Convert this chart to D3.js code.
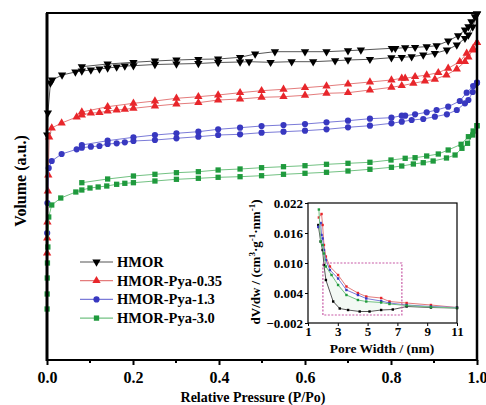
<!DOCTYPE html>
<html>
<head>
<meta charset="utf-8">
<script src="https://cdn.jsdelivr.net/npm/d3@7"></script>
<style>
  body { margin: 0; background: #fff; }
  svg { display: block; font-family: "Liberation Serif", "Times New Roman", serif; font-weight: bold; }
</style>
</head>
<body>
<svg width="486" height="405"></svg>
<script>
// isotherm branches: [P/Po, volume (a.u.)]
const hmorAds = [[0.0005,225],[0.002,247],[0.008,277],[0.012,280],[0.035,285],[0.066,288],[0.081,289],[0.102,290],[0.122,291],[0.141,292],[0.162,293],[0.181,294],[0.201,294.3],[0.251,295.5],[0.301,296],[0.352,296.5],[0.398,297.5],[0.449,298],[0.470,298.3],[0.520,297.7],[0.569,298.3],[0.619,298.3],[0.670,299.3],[0.700,300],[0.751,300.7],[0.801,302.3],[0.825,302.7],[0.848,303.3],[0.875,305],[0.902,306.7],[0.930,310],[0.953,315],[0.972,321.7],[0.980,325],[0.990,333],[1.0,346]];
const hmorDes = [[1.0,346],[0.995,343.3],[0.987,338.3],[0.980,333.3],[0.972,330],[0.956,324.3],[0.933,319],[0.906,314.3],[0.883,313.3],[0.856,312.7],[0.833,312.3],[0.810,311.7],[0.802,311.7],[0.730,310],[0.700,309.3],[0.650,308.3],[0.600,308.3],[0.530,308.3],[0.484,306],[0.449,302.7],[0.398,301],[0.352,300.7],[0.301,300],[0.251,299],[0.201,297.7],[0.141,296],[0.081,293.3]];

const pya035Ads = [[0.0003,107],[0.0006,122],[0.001,138],[0.002,169],[0.003,185],[0.005,223],[0.011,232],[0.034,237],[0.069,243],[0.081,245],[0.102,247],[0.122,247.3],[0.141,249],[0.162,250],[0.181,250.7],[0.201,251.7],[0.251,254],[0.301,256],[0.352,257.3],[0.398,260],[0.449,261],[0.499,262.7],[0.55,263.3],[0.60,264.7],[0.65,266.7],[0.70,267.3],[0.751,270],[0.801,272.7],[0.825,274.3],[0.852,276.7],[0.879,279],[0.902,280.7],[0.929,285],[0.953,291],[0.972,298.3],[0.98,303],[0.99,310],[1.0,317.3]];
const pya035Des = [[1.0,317.3],[0.991,311.7],[0.976,306.7],[0.96,298.3],[0.933,291.7],[0.91,287.3],[0.883,285],[0.856,283.3],[0.833,281.7],[0.825,281.7],[0.801,280],[0.751,278],[0.70,276],[0.65,274],[0.60,272.3],[0.55,270.7],[0.499,269.3],[0.449,267.3],[0.398,265],[0.352,263.3],[0.301,261.7],[0.251,259],[0.201,256.7],[0.141,253.3],[0.081,248]];

const pya13Ads = [[0.0004,127],[0.001,157],[0.004,192],[0.011,199],[0.034,206],[0.069,210.7],[0.081,212.3],[0.102,213.3],[0.122,214],[0.141,216],[0.162,216.7],[0.181,217.7],[0.201,219],[0.251,220],[0.301,221.7],[0.352,223.3],[0.398,225],[0.449,225.7],[0.499,227.3],[0.55,228.3],[0.60,229.3],[0.65,230.7],[0.70,232.7],[0.751,234.3],[0.801,236.7],[0.825,238.3],[0.848,240],[0.875,241],[0.902,243.3],[0.93,245.7],[0.953,250],[0.972,256.7],[0.98,260],[0.99,268],[1.0,277.3]];
const pya13Des = [[1.0,277.3],[0.991,274],[0.976,267.3],[0.96,259],[0.933,253.3],[0.906,250],[0.883,247.7],[0.856,245.7],[0.833,244.3],[0.825,244.3],[0.801,242.3],[0.751,241.3],[0.70,239.3],[0.65,237.7],[0.60,236],[0.55,235],[0.499,234],[0.449,232.3],[0.398,230.7],[0.352,228.3],[0.301,226.7],[0.251,225],[0.201,222.7],[0.141,219.3],[0.081,215]];

const pya30Ads = [[0.0002,51],[0.0004,66],[0.0006,82],[0.001,97],[0.002,113],[0.004,143],[0.011,155],[0.032,162],[0.067,168],[0.081,170],[0.100,172],[0.119,173],[0.139,174],[0.162,175.7],[0.181,176.7],[0.201,177.3],[0.251,179],[0.301,180.7],[0.352,181.7],[0.398,182.7],[0.449,183.3],[0.499,184.3],[0.55,185.7],[0.60,186.7],[0.65,187.7],[0.70,189],[0.751,190.7],[0.801,192.7],[0.825,194],[0.852,196],[0.875,197.3],[0.898,199],[0.929,202],[0.949,205],[0.965,211.7],[0.978,216.7],[0.99,225],[1.0,234.3]];
const pya30Des = [[1.0,234.3],[0.991,229],[0.98,223.3],[0.963,215.7],[0.933,210],[0.91,206],[0.883,204],[0.856,202.3],[0.833,201.7],[0.80,200],[0.751,197.7],[0.70,196.7],[0.65,195.7],[0.60,194.3],[0.55,193.3],[0.499,192.3],[0.449,191],[0.398,190],[0.352,188.3],[0.301,187.3],[0.251,185.7],[0.201,184],[0.141,181],[0.081,177.3]];

// pore size distribution (inset): [pore width nm, dV/dw]
const hmorPsd = [[1.69,0.0176],[1.85,0.0143],[1.98,0.0126],[2.07,0.0096],[2.2,0.0066],[2.69,0.0023],[3.13,0.0009],[3.69,0.0006],[4.47,0.0003],[5.13,0.0003],[5.91,0.0006],[6.69,0.0007],[7.62,0.0013],[9.25,0.0011],[11,0.0010]];
const pya035Psd = [[1.73,0.0191],[1.91,0.0198],[1.98,0.0176],[2.07,0.0136],[2.2,0.0113],[2.47,0.0093],[3.02,0.0076],[3.58,0.0053],[4.35,0.0040],[4.91,0.0033],[5.91,0.0030],[6.47,0.0023],[7.62,0.0020],[9.25,0.0016],[11,0.0011]];
const pya13Psd = [[1.69,0.0172],[1.85,0.0180],[1.91,0.0156],[1.98,0.0149],[2.07,0.0126],[2.2,0.0106],[2.47,0.0086],[3.02,0.0069],[3.58,0.0046],[4.35,0.0036],[4.91,0.0029],[5.91,0.0024],[6.47,0.0020],[7.62,0.0016],[9.25,0.0013],[11,0.0011]];
const pya30Psd = [[1.73,0.0207],[1.85,0.0143],[1.98,0.0136],[2.07,0.0119],[2.2,0.0093],[2.58,0.0076],[3.02,0.0056],[3.58,0.0036],[4.35,0.0026],[4.91,0.0023],[5.91,0.0021],[6.47,0.0018],[7.62,0.0015],[9.25,0.0012],[11,0.0010]];

const seriesNames = ["HMOR", "HMOR-Pya-0.35", "HMOR-Pya-1.3", "HMOR-Pya-3.0"];
const markerColors = ["#000000", "#e8262b", "#3838c0", "#1f9a3d"];
const lineColors = ["#555555", "#e47c7c", "#7b7bd8", "#73c283"];
const xTicks = [0.0, 0.2, 0.4, 0.6, 0.8, 1.0];
const insetXTicks = [1, 3, 5, 7, 9, 11];
const insetYTicks = [-0.002, 0.004, 0.010, 0.016, 0.022];
const zoomBox = [[2.0, 0.010], [7.3, -0.0004]];

const svg = d3.select("svg");

const isotherms = [
  [hmorAds, hmorDes],
  [pya035Ads, pya035Des],
  [pya13Ads, pya13Des],
  [pya30Ads, pya30Des]
];
const psd = [hmorPsd, pya035Psd, pya13Psd, pya30Psd];

const symbols = [
  { type: d3.symbolTriangle, rotate: 180, size: 30 },
  { type: d3.symbolTriangle, rotate: 0, size: 30 },
  { type: d3.symbolCircle, rotate: 0, size: 30 },
  { type: d3.symbolSquare, rotate: 0, size: 28 }
];

const scaleX = d3.scaleLinear().domain([0, 1]).range([47, 477]);
const scaleY = d3.scaleLinear().domain([0, 347]).range([360, 13]);

const line = d3
  .line()
  .x(d => scaleX(d[0]))
  .y(d => scaleY(d[1]));

// main curves
isotherms.forEach((branches, i) => {
  const g = svg.append("g").attr("class", "series");
  branches.forEach(b => {
    g.append("path")
      .attr("d", line(b))
      .attr("fill", "none")
      .attr("stroke", lineColors[i])
      .attr("stroke-width", 1);
  });
  const sym = d3.symbol().type(symbols[i].type).size(symbols[i].size);
  branches.forEach(b => {
    g.selectAll(null)
      .data(b)
      .enter()
      .append("path")
      .attr("d", sym)
      .attr("fill", markerColors[i])
      .attr("transform", d => `translate(${scaleX(d[0])},${scaleY(d[1])}) rotate(${symbols[i].rotate})`);
  });
});

// frame and axes
svg.append("rect")
  .attr("x", 47).attr("y", 13)
  .attr("width", 430).attr("height", 347)
  .attr("fill", "none")
  .attr("stroke", "#000")
  .attr("stroke-width", 2);
svg.append("line")
  .attr("x1", 47).attr("x2", 47).attr("y1", 13).attr("y2", 361)
  .attr("stroke", "#000").attr("stroke-width", 3);
svg.append("line")
  .attr("x1", 477).attr("x2", 477).attr("y1", 12).attr("y2", 361)
  .attr("stroke", "#000").attr("stroke-width", 2.5);

const axisX = d3.axisBottom(scaleX)
  .tickValues(xTicks)
  .tickFormat(d3.format(".1f"))
  .tickSizeInner(5)
  .tickSizeOuter(0)
  .tickPadding(7);
const axisXGroup = svg.append("g")
  .attr("transform", "translate(0,360)")
  .call(axisX);
axisXGroup.select(".domain").remove();
axisXGroup.selectAll("line").attr("stroke-width", 2);
axisXGroup.selectAll("text")
  .attr("font-size", 16)
  .attr("font-family", "Liberation Serif")
  .attr("font-weight", "bold")
  .attr("fill", "#000");

svg.append("g")
  .attr("transform", "translate(0,360)")
  .selectAll("line")
  .data(d3.range(0.1, 1, 0.2))
  .enter()
  .append("line")
  .attr("x1", d => scaleX(d)).attr("x2", d => scaleX(d))
  .attr("y1", 0).attr("y2", 3)
  .attr("stroke", "#000").attr("stroke-width", 2);

svg.append("text")
  .attr("x", 253).attr("y", 402)
  .attr("text-anchor", "middle")
  .attr("font-size", 14)
  .text("Relative Pressure (P/Po)");

svg.append("text")
  .attr("transform", "translate(26,181) rotate(-90)")
  .attr("text-anchor", "middle")
  .attr("font-size", 16)
  .text("Volume (a.u.)");

// legend
const legend = svg.selectAll("g.legend")
  .data(seriesNames)
  .enter()
  .append("g")
  .attr("class", "legend")
  .attr("transform", (d, i) => `translate(80,${262 + i * 18.7})`);
legend.append("line")
  .attr("x1", 0).attr("x2", 33)
  .attr("stroke", (d, i) => lineColors[i])
  .attr("stroke-width", 1.2);
legend.append("path")
  .attr("d", (d, i) => d3.symbol().type(symbols[i].type).size(symbols[i].size)())
  .attr("fill", (d, i) => markerColors[i])
  .attr("transform", (d, i) => `translate(16.5,0) rotate(${symbols[i].rotate})`);
legend.append("text")
  .attr("x", 37).attr("y", 5)
  .attr("font-size", 14.5)
  .text(d => d);

// inset
const insetX = d3.scaleLinear().domain([1, 11]).range([308, 457]);
const insetY = d3.scaleLinear().domain([-0.002, 0.022]).range([323, 203]);

svg.append("rect")
  .attr("x", 308).attr("y", 203)
  .attr("width", 149).attr("height", 120)
  .attr("fill", "#fff");

const insetLine = d3.line()
  .x(d => insetX(d[0]))
  .y(d => insetY(d[1]));

// faint fill between HMOR and HMOR-Pya-3.0 curves
const fillArea = d3.area()
  .x(d => insetX(d[0]))
  .y0(d => insetY(d[1]))
  .y1(d => insetY(d[2]));
svg.append("path")
  .attr("d", fillArea(hmorPsd.slice(1, 11).map((d, i) => [d[0], d[1], pya30Psd[i + 1][1]])))
  .attr("fill", "#f3f9f4");

psd.forEach((s, i) => {
  svg.append("path")
    .attr("d", insetLine(s))
    .attr("fill", "none")
    .attr("stroke", lineColors[i])
    .attr("stroke-width", 1);
  svg.append("g")
    .selectAll("rect")
    .data(s)
    .enter()
    .append("rect")
    .attr("x", d => insetX(d[0]) - 1.2)
    .attr("y", d => insetY(d[1]) - 1.2)
    .attr("width", 2.4).attr("height", 2.4)
    .attr("fill", markerColors[i]);
});

svg.append("rect")
  .attr("x", insetX(zoomBox[0][0]))
  .attr("y", insetY(zoomBox[0][1]))
  .attr("width", insetX(zoomBox[1][0]) - insetX(zoomBox[0][0]))
  .attr("height", insetY(zoomBox[1][1]) - insetY(zoomBox[0][1]))
  .attr("fill", "none")
  .attr("stroke", "#c85aa6")
  .attr("stroke-width", 1.2)
  .attr("stroke-dasharray", "2,1.5");

svg.append("rect")
  .attr("x", 308).attr("y", 203)
  .attr("width", 149).attr("height", 120)
  .attr("fill", "none")
  .attr("stroke", "#000")
  .attr("stroke-width", 1.2);

const insetAxisX = d3.axisBottom(insetX)
  .tickValues(insetXTicks)
  .tickFormat(d3.format("d"))
  .tickSizeInner(3)
  .tickSizeOuter(0)
  .tickPadding(1);
const insetAxisY = d3.axisLeft(insetY)
  .tickValues(insetYTicks)
  .tickFormat(d3.format(".3f"))
  .tickSizeInner(3)
  .tickSizeOuter(0)
  .tickPadding(2);

[
  svg.append("g").attr("transform", "translate(0,323)").call(insetAxisX),
  svg.append("g").attr("transform", "translate(308,0)").call(insetAxisY)
].forEach(g => {
  g.select(".domain").remove();
  g.selectAll("text")
    .attr("font-size", 13)
    .attr("font-family", "Liberation Serif")
    .attr("font-weight", "bold")
    .attr("fill", "#000");
});

svg.append("text")
  .attr("x", 382).attr("y", 353)
  .attr("text-anchor", "middle")
  .attr("font-size", 13.5)
  .text("Pore Width / (nm)");

const yLab = svg.append("text")
  .attr("transform", "translate(260,262) rotate(-90)")
  .attr("text-anchor", "middle")
  .attr("font-size", 13);
yLab.append("tspan").text("dV/dw / (cm");
yLab.append("tspan").attr("dy", -5).attr("font-size", 9).text("3");
yLab.append("tspan").attr("dy", 5).text("·g");
yLab.append("tspan").attr("dy", -5).attr("font-size", 9).text("-1");
yLab.append("tspan").attr("dy", 5).text("·nm");
yLab.append("tspan").attr("dy", -5).attr("font-size", 9).text("-1");
yLab.append("tspan").attr("dy", 5).text(")");
</script>
</body>
</html>
